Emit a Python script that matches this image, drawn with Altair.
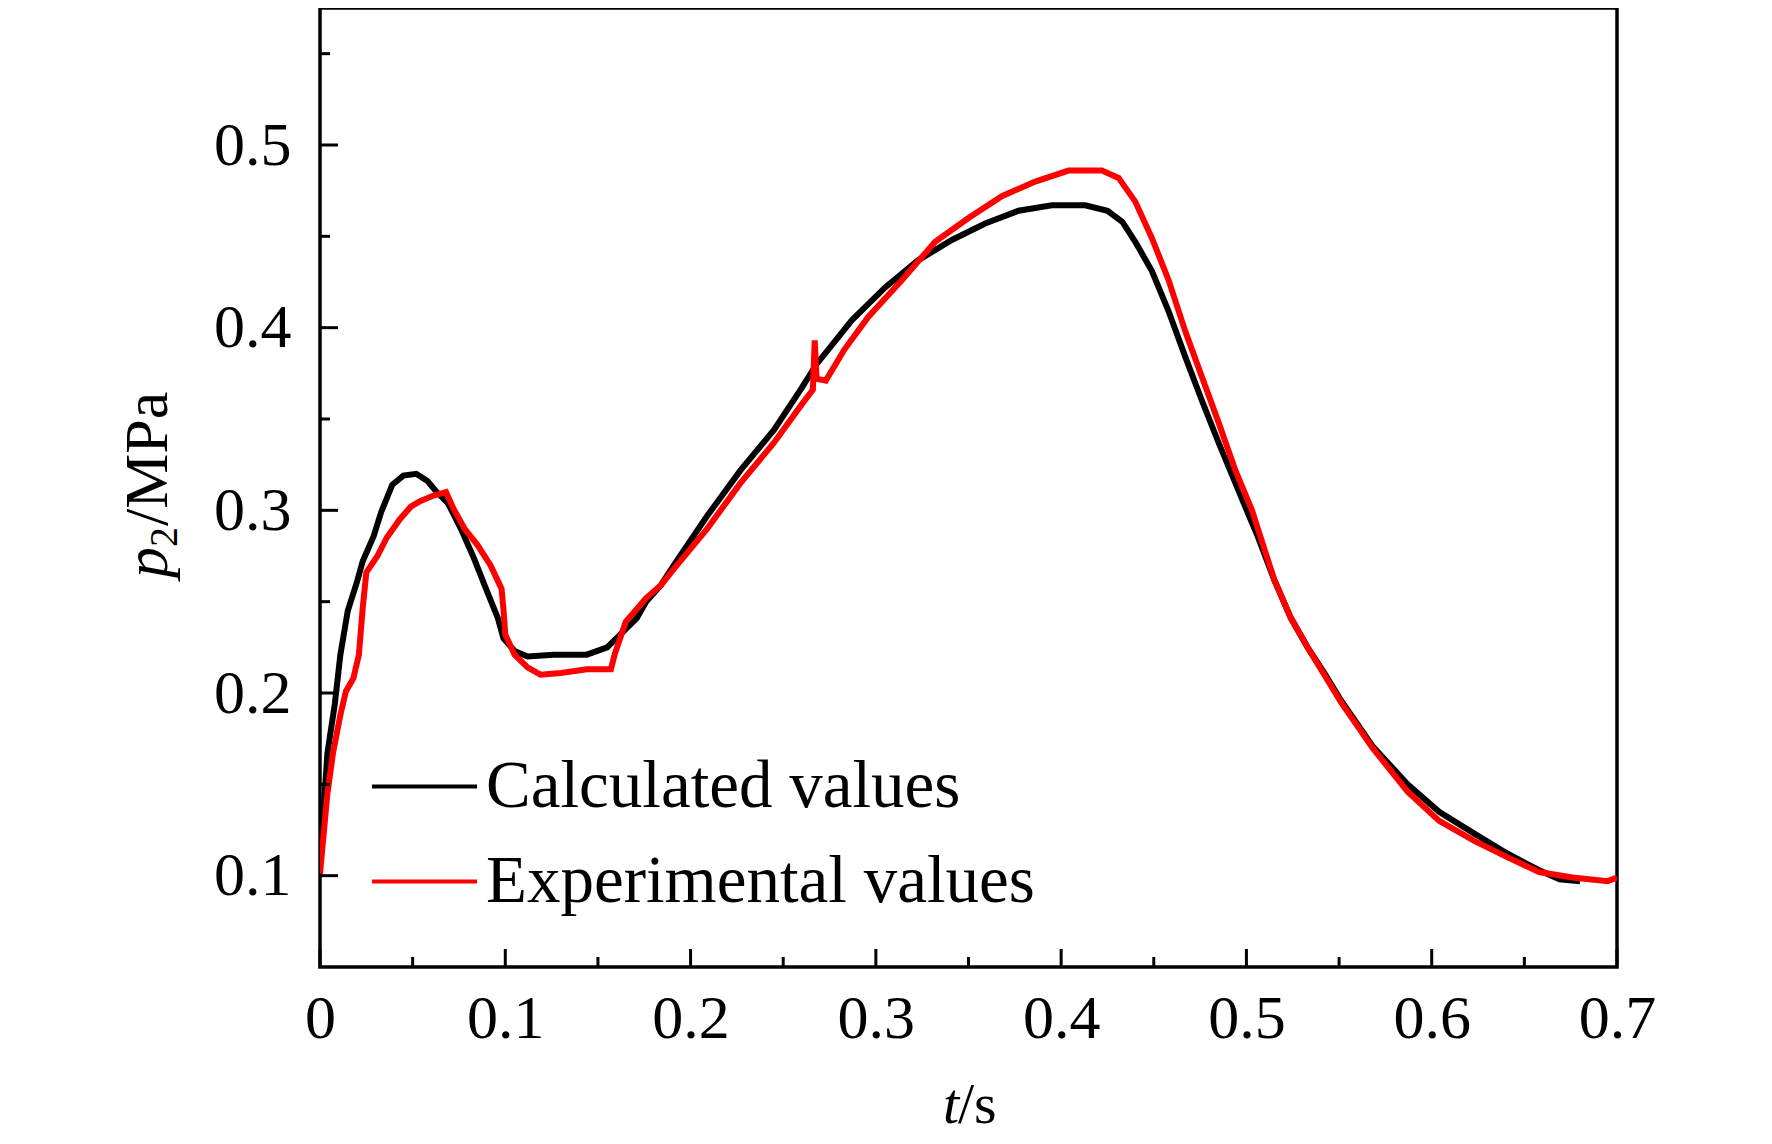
import altair as alt
import pandas as pd

# ---- data ----
calc_t = [0.000, 0.004, 0.008, 0.011, 0.015, 0.020, 0.023, 0.029, 0.033, 0.039,
          0.045, 0.052, 0.058, 0.063, 0.069, 0.076, 0.083, 0.090, 0.096, 0.099,
          0.105, 0.112, 0.126, 0.144, 0.155, 0.162, 0.171, 0.176, 0.184, 0.191,
          0.209, 0.227, 0.245, 0.260, 0.268, 0.287, 0.305, 0.323, 0.341, 0.359,
          0.377, 0.395, 0.413, 0.425, 0.433, 0.440, 0.449, 0.458, 0.467, 0.476,
          0.485, 0.494, 0.501, 0.506, 0.515, 0.524, 0.533, 0.542, 0.551, 0.568,
          0.587, 0.604, 0.623, 0.641, 0.658, 0.669, 0.680]
calc_p = [0.107, 0.167, 0.194, 0.221, 0.245, 0.261, 0.272, 0.286, 0.299, 0.314,
          0.319, 0.320, 0.316, 0.310, 0.304, 0.290, 0.274, 0.256, 0.241, 0.230,
          0.223, 0.220, 0.221, 0.221, 0.225, 0.232, 0.241, 0.250, 0.259, 0.270,
          0.297, 0.322, 0.344, 0.367, 0.380, 0.404, 0.422, 0.437, 0.448, 0.457,
          0.464, 0.467, 0.467, 0.464, 0.458, 0.447, 0.431, 0.409, 0.384, 0.360,
          0.337, 0.315, 0.298, 0.286, 0.262, 0.241, 0.225, 0.211, 0.196, 0.171,
          0.150, 0.135, 0.123, 0.112, 0.103, 0.098, 0.097]

exp_t = [0.000, 0.004, 0.007, 0.011, 0.014, 0.018, 0.021, 0.023, 0.025, 0.031,
         0.036, 0.043, 0.049, 0.054, 0.061, 0.068, 0.072, 0.078, 0.085, 0.092,
         0.098, 0.099, 0.100, 0.105, 0.112, 0.119, 0.130, 0.144, 0.157, 0.159,
         0.165, 0.171, 0.176, 0.184, 0.191, 0.209, 0.227, 0.245, 0.260, 0.266,
         0.267, 0.268, 0.273, 0.283, 0.296, 0.314, 0.332, 0.350, 0.368, 0.386,
         0.404, 0.422, 0.431, 0.440, 0.449, 0.458, 0.467, 0.476, 0.485, 0.494,
         0.503, 0.515, 0.524, 0.533, 0.542, 0.551, 0.568, 0.587, 0.604, 0.623,
         0.641, 0.658, 0.676, 0.695, 0.700]
exp_p = [0.101, 0.145, 0.167, 0.188, 0.201, 0.208, 0.221, 0.246, 0.266, 0.275,
         0.285, 0.295, 0.302, 0.305, 0.308, 0.310, 0.301, 0.290, 0.281, 0.270,
         0.257, 0.246, 0.232, 0.221, 0.214, 0.210, 0.211, 0.213, 0.213, 0.221,
         0.239, 0.246, 0.252, 0.259, 0.268, 0.290, 0.315, 0.337, 0.358, 0.366,
         0.393, 0.372, 0.371, 0.388, 0.406, 0.426, 0.447, 0.460, 0.472, 0.480,
         0.486, 0.486, 0.482, 0.469, 0.449, 0.426, 0.398, 0.373, 0.348, 0.322,
         0.300, 0.262, 0.241, 0.225, 0.210, 0.195, 0.170, 0.146, 0.130, 0.119,
         0.110, 0.102, 0.099, 0.097, 0.099]

series_names = ["Calculated values", "Experimental values"]
series_colors = ["#000000", "#ff0000"]

x_major = [0.0, 0.1, 0.2, 0.3, 0.4, 0.5, 0.6, 0.7]
x_minor = [0.05, 0.15, 0.25, 0.35, 0.45, 0.55, 0.65]
y_major = [0.1, 0.2, 0.3, 0.4, 0.5]
y_minor = [0.15, 0.25, 0.35, 0.45, 0.55]

x_domain = [0.0, 0.7]
y_domain = [0.05, 0.575]

# ---- layout / style ----
W, H = 1297, 959
FONT = "Liberation Serif"
TICK_FS = 62

df = pd.concat([
    pd.DataFrame({"t": calc_t, "p": calc_p, "series": series_names[0]}),
    pd.DataFrame({"t": exp_t, "p": exp_p, "series": series_names[1]}),
], ignore_index=True)

xs = alt.Scale(domain=x_domain, nice=False, zero=False)
ys = alt.Scale(domain=y_domain, nice=False, zero=False)

x_axis = alt.Axis(values=x_major, title=None, ticks=False, tickSize=0, domain=False,
                  grid=False, labelFont=FONT, labelFontSize=TICK_FS, labelColor="black",
                  labelPadding=21, labelFlush=False, labelOverlap=False,
                  labelExpr="datum.value == 0 ? '0' : format(datum.value, '.1f')")
y_axis = alt.Axis(values=y_major, title=None, ticks=False, tickSize=0, domain=False,
                  grid=False, labelFont=FONT, labelFontSize=TICK_FS, labelColor="black",
                  labelPadding=29, labelFlush=False, labelOverlap=False, format=".1f")

lines = alt.Chart(df).mark_line(strokeWidth=6, clip=True).encode(
    x=alt.X("t:Q", scale=xs, axis=x_axis),
    y=alt.Y("p:Q", scale=ys, axis=y_axis),
    color=alt.Color("series:N",
                    scale=alt.Scale(domain=series_names, range=series_colors),
                    legend=alt.Legend(orient="none", legendX=50, legendY=724,
                                      title=None, symbolType="stroke",
                                      symbolSize=11025, symbolStrokeWidth=4,
                                      labelFont=FONT, labelFontSize=67,
                                      labelColor="black", labelOffset=7,
                                      labelLimit=2000, padding=0, rowPadding=7)),
)

tick_df_x = pd.concat([
    pd.DataFrame({"t": x_major, "kind": "major"}),
    pd.DataFrame({"t": x_minor, "kind": "minor"}),
], ignore_index=True)
tick_df_y = pd.concat([
    pd.DataFrame({"p": y_major, "kind": "major"}),
    pd.DataFrame({"p": y_minor, "kind": "minor"}),
], ignore_index=True)

xt_major = alt.Chart(tick_df_x).transform_filter("datum.kind == 'major'").mark_rule(
    color="black", strokeWidth=3).encode(
    x=alt.X("t:Q", scale=xs, axis=x_axis), y=alt.value(H), y2=alt.value(H - 18))
xt_minor = alt.Chart(tick_df_x).transform_filter("datum.kind == 'minor'").mark_rule(
    color="black", strokeWidth=3).encode(
    x=alt.X("t:Q", scale=xs, axis=x_axis), y=alt.value(H), y2=alt.value(H - 10))
yt_major = alt.Chart(tick_df_y).transform_filter("datum.kind == 'major'").mark_rule(
    color="black", strokeWidth=3).encode(
    y=alt.Y("p:Q", scale=ys, axis=y_axis), x=alt.value(0), x2=alt.value(18))
yt_minor = alt.Chart(tick_df_y).transform_filter("datum.kind == 'minor'").mark_rule(
    color="black", strokeWidth=3).encode(
    y=alt.Y("p:Q", scale=ys, axis=y_axis), x=alt.value(0), x2=alt.value(10))

one = pd.DataFrame({"a": [0]})
TFS = 58
xt_t = alt.Chart(one).mark_text(text="t", font=FONT, fontSize=TFS, fontStyle="italic",
                                align="right", baseline="alphabetic", color="black").encode(
    x=alt.value(639), y=alt.value(1115))
xt_s = alt.Chart(one).mark_text(text="/s", font=FONT, fontSize=TFS,
                                align="left", baseline="alphabetic", color="black").encode(
    x=alt.value(638), y=alt.value(1115))

YFS = 62
yt_p = alt.Chart(one).mark_text(text="p", font=FONT, fontSize=YFS, fontStyle="italic",
                                angle=270, align="left", baseline="alphabetic",
                                color="black").encode(x=alt.value(-153), y=alt.value(570))
yt_2 = alt.Chart(one).mark_text(text="2", font=FONT, fontSize=40,
                                angle=270, align="left", baseline="alphabetic",
                                color="black").encode(x=alt.value(-143), y=alt.value(539))
yt_m = alt.Chart(one).mark_text(text="/MPa", font=FONT, fontSize=YFS,
                                angle=270, align="left", baseline="alphabetic",
                                color="black").encode(x=alt.value(-153), y=alt.value(518))

chart = alt.layer(
    lines, xt_major, xt_minor, yt_major, yt_minor, xt_t, xt_s, yt_p, yt_2, yt_m
).properties(
    width=W, height=H,
    autosize=alt.AutoSizeParams(type="none"),
    padding={"left": 312, "top": 0, "right": 147, "bottom": 176},
    background="white",
).configure_view(stroke="black", strokeWidth=3.5)

chart.save("out.html", embed_options={"renderer": "svg", "actions": False})
